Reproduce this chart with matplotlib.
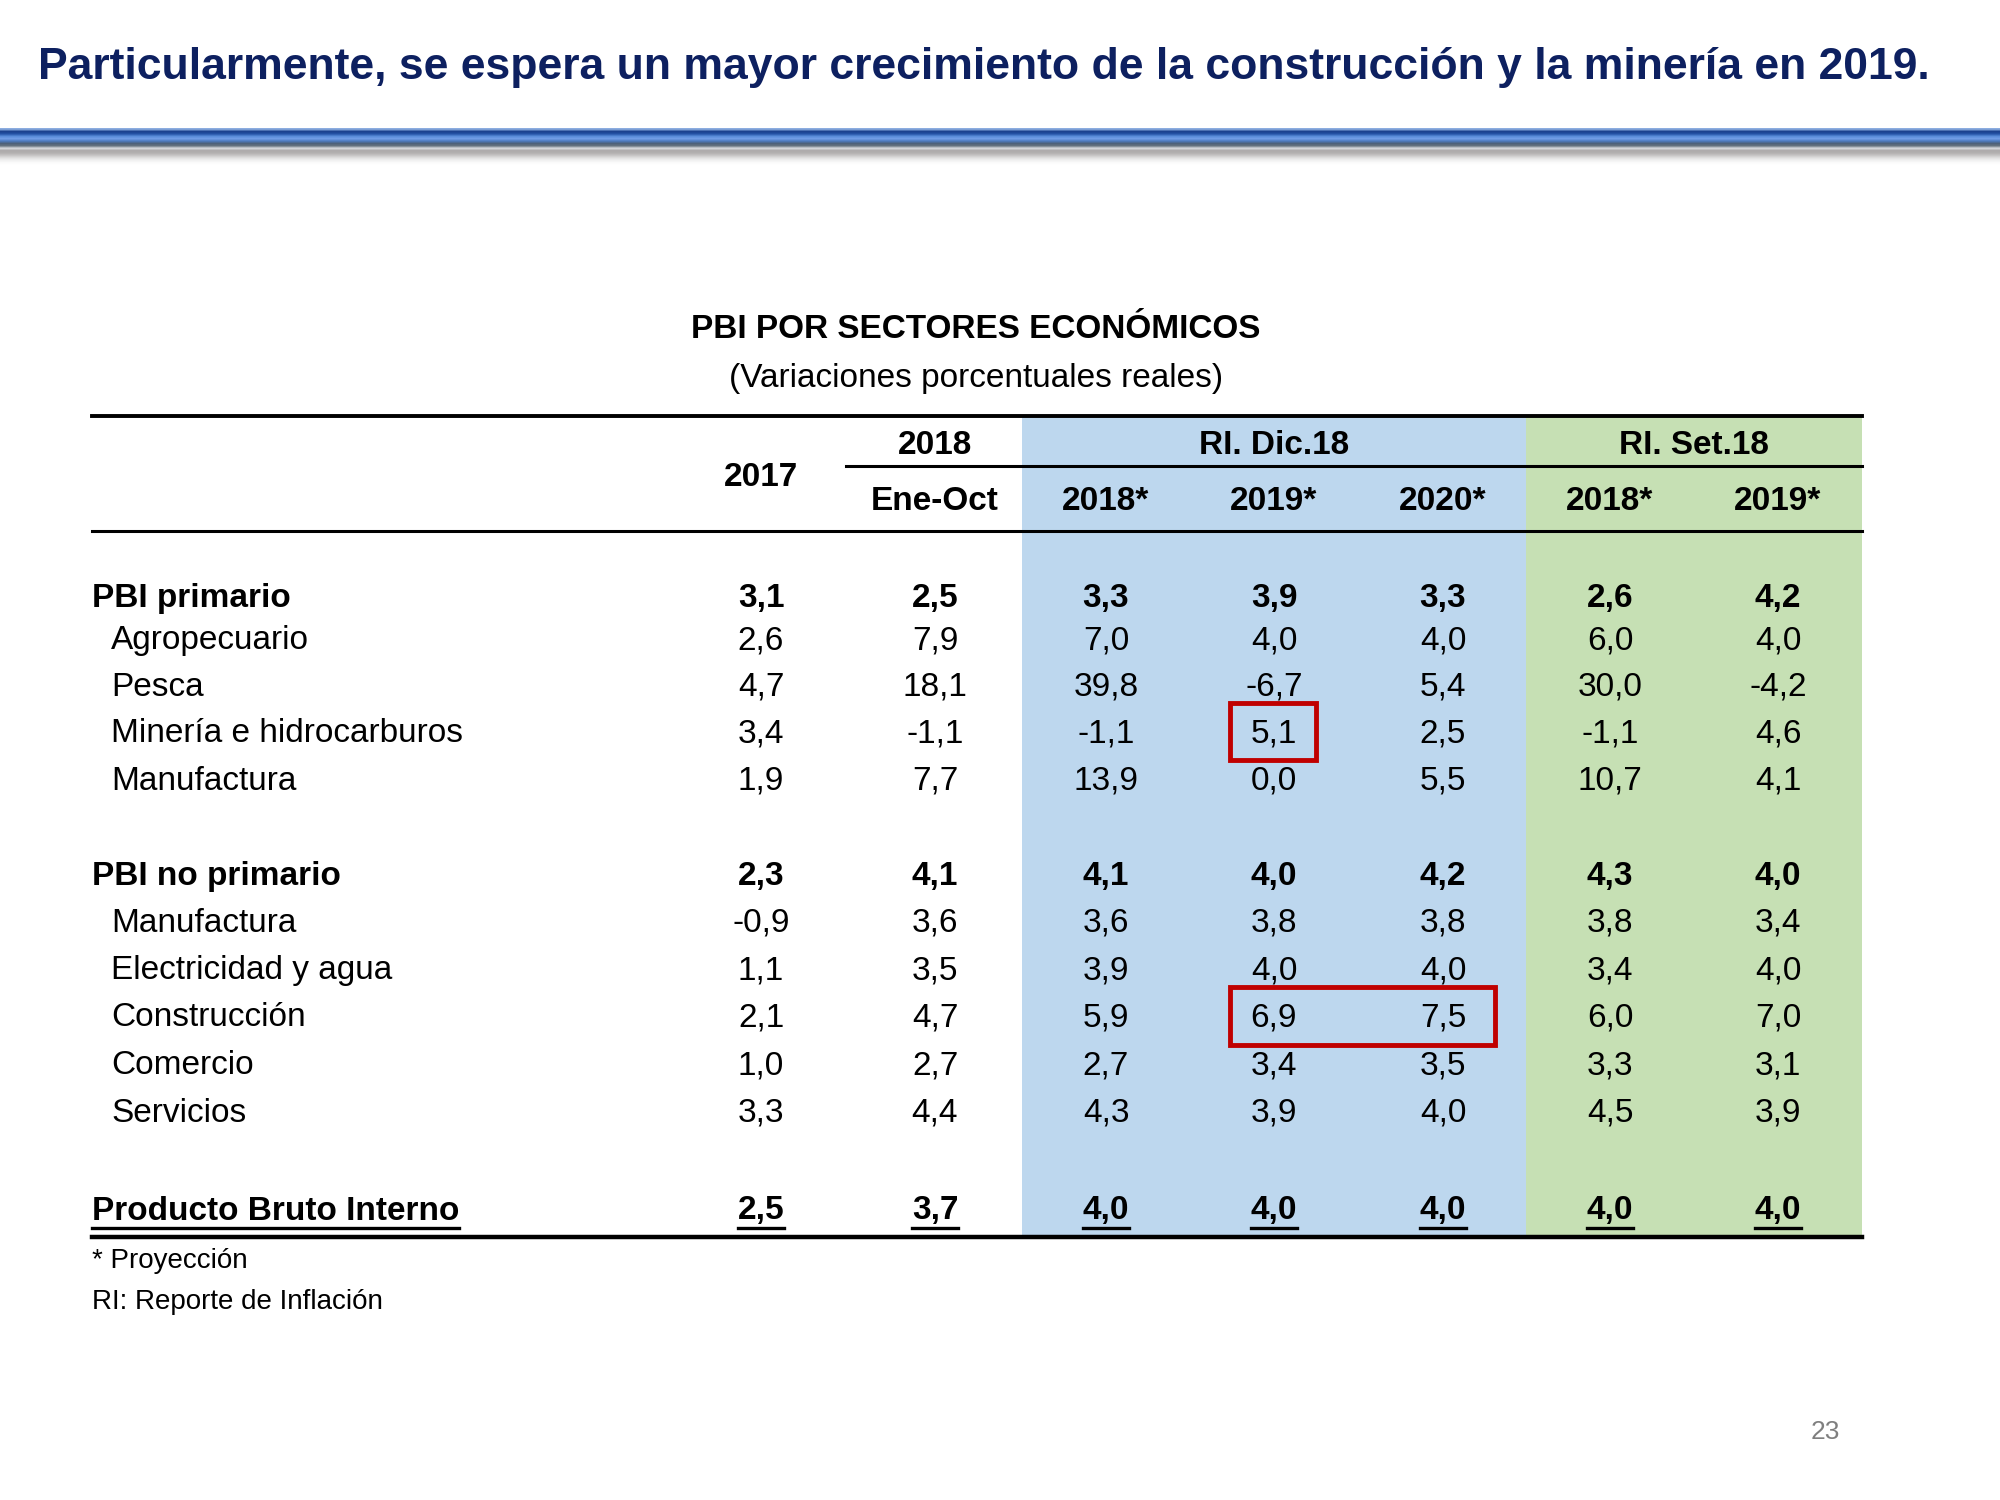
import numpy as np
import matplotlib
matplotlib.use('Agg')
import matplotlib.pyplot as plt
from matplotlib.patches import Rectangle

plt.rcParams['font.family'] = ['Liberation Sans', 'DejaVu Sans']

titulo = 'Particularmente, se espera un mayor crecimiento de la construcción y la minería en 2019.'
tabla_titulo = 'PBI POR SECTORES ECONÓMICOS'
tabla_sub = '(Variaciones porcentuales reales)'

col_anio = ['2017', '2018', 'RI. Dic.18', 'RI. Set.18']
col_sub = ['Ene-Oct', '2018*', '2019*', '2020*', '2018*', '2019*']

filas = ['PBI primario', 'Agropecuario', 'Pesca', 'Minería e hidrocarburos', 'Manufactura',
         'PBI no primario', 'Manufactura', 'Electricidad y agua', 'Construcción', 'Comercio',
         'Servicios', 'Producto Bruto Interno']
negrita = [True, False, False, False, False, True, False, False, False, False, False, True]

v2017 = ['3,1', '2,6', '4,7', '3,4', '1,9', '2,3', '-0,9', '1,1', '2,1', '1,0', '3,3', '2,5']
v2018_eo = ['2,5', '7,9', '18,1', '-1,1', '7,7', '4,1', '3,6', '3,5', '4,7', '2,7', '4,4', '3,7']
dic_2018 = ['3,3', '7,0', '39,8', '-1,1', '13,9', '4,1', '3,6', '3,9', '5,9', '2,7', '4,3', '4,0']
dic_2019 = ['3,9', '4,0', '-6,7', '5,1', '0,0', '4,0', '3,8', '4,0', '6,9', '3,4', '3,9', '4,0']
dic_2020 = ['3,3', '4,0', '5,4', '2,5', '5,5', '4,2', '3,8', '4,0', '7,5', '3,5', '4,0', '4,0']
set_2018 = ['2,6', '6,0', '30,0', '-1,1', '10,7', '4,3', '3,8', '3,4', '6,0', '3,3', '4,5', '4,0']
set_2019 = ['4,2', '4,0', '-4,2', '4,6', '4,1', '4,0', '3,4', '4,0', '7,0', '3,1', '3,9', '4,0']

columnas = [v2017, v2018_eo, dic_2018, dic_2019, dic_2020, set_2018, set_2019]

# layout (pixel coords of a 2000x1500 canvas)
xcol = [761, 935, 1106, 1274, 1443, 1610, 1778]
yfila = [599, 641, 687, 734, 781, 876, 923, 971, 1018, 1066, 1113, 1211]
x_izq, x_der = 92, 1862
x_azul, x_verde = 1022, 1526
y_top, y_mid, y_head, y_bot = 416, 466, 531, 1237

fs = 24
azul = '#bdd7ee'
verde = '#c6e0b4'
rojo = '#c00000'

fig = plt.figure(figsize=(20, 15), dpi=100)
ax = fig.add_axes([0, 0, 1, 1])
ax.set_xlim(0, 2000)
ax.set_ylim(1500, 0)
ax.axis('off')

# title + banner
ax.text(38, 68, titulo, fontsize=32, fontweight='bold', color='#0d2060', va='center', ha='left')
banda = np.array([
    [0.55, 0.68, 0.88], [0.10, 0.25, 0.55], [0.15, 0.33, 0.65], [0.35, 0.55, 0.85],
    [0.45, 0.62, 0.90], [0.30, 0.48, 0.75], [0.30, 0.38, 0.48], [0.40, 0.45, 0.50],
    [0.85, 0.86, 0.88], [0.68, 0.67, 0.67], [0.70, 0.69, 0.69], [0.78, 0.77, 0.77],
    [0.87, 0.87, 0.87], [0.94, 0.94, 0.94], [0.98, 0.98, 0.98], [1, 1, 1]])
ax.imshow(banda[:, None, :], extent=[0, 2000, 166, 128], aspect='auto', interpolation='bilinear', zorder=1)

ax.text(976, 330, tabla_titulo, fontsize=24, fontweight='bold', ha='center', va='center')
ax.text(976, 378, tabla_sub, fontsize=24, ha='center', va='center')

# shaded column blocks
ax.add_patch(Rectangle((x_azul, y_top), x_verde - x_azul, y_bot - y_top, color=azul, lw=0, zorder=0))
ax.add_patch(Rectangle((x_verde, y_top), x_der - x_verde, y_bot - y_top, color=verde, lw=0, zorder=0))

# rules
ax.plot([x_izq, x_der], [y_top, y_top], color='black', lw=2.8)
ax.plot([846, x_der], [y_mid, y_mid], color='black', lw=2.2)
ax.plot([x_izq, x_der], [y_head, y_head], color='black', lw=2.2)
ax.plot([x_izq, x_der], [y_bot, y_bot], color='black', lw=3.2)

# header
hb = dict(fontsize=fs, fontweight='bold', ha='center', va='center')
ax.text(xcol[0], 478, col_anio[0], **hb)
ax.text(xcol[1], 445, col_anio[1], **hb)
ax.text(xcol[3], 445, col_anio[2], **hb)
ax.text((xcol[5] + xcol[6]) / 2, 445, col_anio[3], **hb)
for x, s in zip(xcol[1:], col_sub):
    ax.text(x, 501, s, **hb)

# body
subrayar = []
for i, (nombre, y) in enumerate(zip(filas, yfila)):
    w = 'bold' if negrita[i] else 'normal'
    x0 = x_izq if negrita[i] else x_izq + 19
    t = ax.text(x0, y, nombre, fontsize=fs, fontweight=w, ha='left', va='center')
    if i == len(filas) - 1:
        subrayar.append(t)
    for x, col in zip(xcol, columnas):
        t = ax.text(x, y, col[i], fontsize=fs, fontweight=w, ha='center', va='center')
        if i == len(filas) - 1:
            subrayar.append(t)

# underline the total row
fig.canvas.draw()
r = fig.canvas.get_renderer()
inv = ax.transData.inverted()
for t in subrayar:
    bb = t.get_window_extent(r)
    (xa, _), (xb, _) = inv.transform([[bb.x0, bb.y0], [bb.x1, bb.y0]])
    ax.plot([xa, xb], [1228, 1228], color='black', lw=2.4)

# highlight boxes
ax.add_patch(Rectangle((1230, 703), 86, 57, fill=False, ec=rojo, lw=3.5, zorder=5))
ax.add_patch(Rectangle((1230, 987), 265, 58, fill=False, ec=rojo, lw=3.5, zorder=5))

# footnotes
ax.text(x_izq, 1261, '* Proyección', fontsize=20, ha='left', va='center')
ax.text(x_izq, 1302, 'RI: Reporte de Inflación', fontsize=20, ha='left', va='center')
ax.text(1825, 1432, '23', fontsize=19, color='#7f7f7f', ha='center', va='center')

fig.savefig('out.png', dpi=100)
